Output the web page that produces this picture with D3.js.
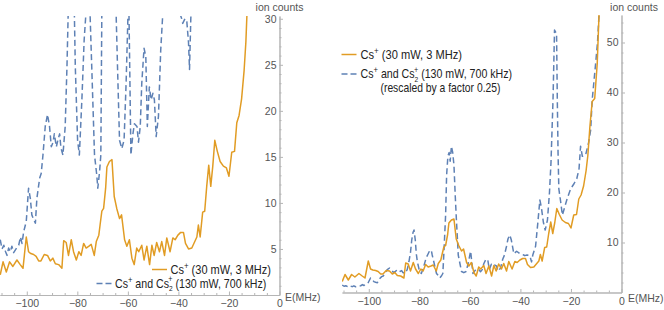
<!DOCTYPE html>
<html><head><meta charset="utf-8">
<script src="https://cdn.jsdelivr.net/npm/d3@7"></script>
<style>
body{margin:0;background:#fff;}
svg{display:block;}
text{font-family:"Liberation Sans",Arial,sans-serif;}
</style></head><body>
<svg id="chart" width="664" height="310"></svg>
<script>
// ---------- data ----------
const orangeMHz = [-110.5,-109.4,-108.1,-106.8,-105.5,-103.9,-102.6,-101.5,-100.2,-99.3,-98.4,-97.3,-96.3,-95.3,-94.4,-93.1,-91.8,-90.7,-89.7,-88.7,-87.4,-86.1,-85.4,-84.4,-83.5,-82.4,-81.5,-80.4,-79.4,-78.5,-77.5,-76.5,-75.4,-74.5,-73.3,-72.5,-71.5,-71.0,-70.3,-69.6,-68.8,-68.3,-67.3,-66.3,-65.4,-64.4,-63.3,-62.5,-61.3,-60.4,-59.4,-58.4,-57.5,-56.5,-55.7,-54.5,-53.6,-52.5,-51.4,-50.5,-49.6,-48.6,-47.5,-46.6,-45.5,-44.6,-43.3,-42.2,-41.3,-40.2,-39.1,-38.0,-37.2,-36.0,-34.7,-33.7,-32.7,-32.1,-31.4,-30.4,-29.6,-28.8,-28.0,-27.2,-26.4,-25.6,-24.6,-23.5,-22.2,-21.0,-20.0,-18.9,-17.8,-16.9,-16.0,-15.0,-14.0,-13.3,-12.5,-11.6,-10.6,-9.6,-8.9,-8.2];
const orangeCounts = [2.2,3.6,2.5,3.6,3.1,3.8,3.3,2.9,6.3,4.7,4.5,4.4,4.2,3.7,3.7,4.4,4.3,3.7,4.0,3.4,3.3,2.9,5.9,5.7,4.3,6.0,4.7,3.8,4.7,4.3,5.6,5.1,5.3,5.5,4.3,5.8,6.5,7.6,9.1,9.4,11.6,13.9,14.5,14.7,10.7,9.4,8.3,8.7,6.0,5.3,6.0,4.0,3.3,5.1,4.7,5.4,3.8,5.3,3.3,5.4,4.3,5.7,4.7,5.8,4.3,6.2,4.7,6.2,6.0,6.5,6.8,6.8,5.6,5.0,5.1,5.7,6.3,7.6,6.3,9.0,9.1,11.8,14.1,11.8,14.0,16.8,15.6,14.5,14.0,13.8,12.9,15.5,15.6,18.7,19.5,21.3,24.4,27.5,33.2,38.2,38.8,45.8,55.5,62];

const blueMHz = [-110.5,-109.8,-109.1,-108.4,-107.8,-107.2,-106.5,-105.9,-105.2,-104.5,-103.8,-103.2,-102.5,-101.9,-101.2,-100.2,-99.3,-98.6,-98.0,-97.3,-96.6,-96.0,-94.9,-94.3,-93.6,-92.7,-91.8,-91.0,-90.3,-89.6,-89.1,-88.3,-87.7,-87.0,-86.5,-85.7,-84.8,-84.1,-83.5,-83.0,-82.5,-82.1,-81.6,-81.2,-80.8,-79.9,-79.2,-78.2,-77.3,-76.5,-75.8,-75.2,-74.9,-74.3,-73.2,-72.3,-71.9,-71.2,-70.7,-70.3,-69.6,-69.2,-68.7,-68.2,-67.8,-67.3,-66.8,-66.3,-65.8,-65.3,-64.8,-64.6,-64.1,-63.3,-62.4,-61.5,-60.7,-60.0,-59.7,-59.4,-58.8,-58.0,-57.4,-56.4,-55.8,-55.1,-54.5,-53.6,-52.9,-52.3,-51.5,-50.8,-50.1,-49.5,-48.8,-47.9,-47.0,-46.3,-45.5,-44.9,-44.2,-43.6,-42.6,-41.5,-40.2,-39.3,-38.7,-38.3,-37.4,-36.7,-36.0,-35.6,-35.1,-34.0,-33.1,-32.3,-31.7,-30.9,-30.2,-29.3,-28.5,-27.9,-27.1,-26.5,-25.7,-25.4,-25.1,-24.8,-24.1,-23.4,-21.5,-20.1,-18.8,-17.7,-16.8,-16.2,-15.5,-14.2,-13.0,-12.2,-11.6,-10.2,-9.5,-8.9,-8.2];
const blueCounts = [6.0,5.0,5.4,4.7,4.3,5.1,4.7,5.3,4.6,4.9,5.2,5.4,6.3,5.6,6.9,8.0,11.6,10.5,8.7,8.2,7.8,10.5,12.7,13.2,15.2,18.3,19.6,18.3,16.1,16.6,17.5,16.1,16.8,17.5,16.0,15.2,18.3,24.8,32,42,48,50,42,31,24.8,16.8,15.2,21.2,27.7,31,34,33,30,24.8,15.2,13.0,11.6,13.4,15.2,31,62,94,109,112,105,117,112,102,78,57,38,30,24.8,16.8,15.9,16.8,23,30,33,27.4,15.2,17.5,18.6,18.3,16.6,18.3,23,26.8,25.9,18.3,22.6,21.2,21.9,21.2,17.2,19.4,26.6,30,37,43,46,42,31,33,31,30.5,30,29.5,30,29.8,27.4,24.5,30,37,56,74,68,56,50,58,80,104,154,210,207,154,111,83,73,62,75,83,87,91,99,117,109,110,120,130,154,184,200,222,250];
const rescaleFactor = 0.25;

const xTicks = [-100,-80,-60,-40,-20,0];
const leftYTicks = [5,10,15,20,25,30];
const rightYTicks = [10,20,30,40,50];
const legendOrange = {base:"Cs", sup:"+", rest:" (30 mW, 3 MHz)"};
const legendBlue = {a:"Cs", sup1:"+", mid:" and Cs", sub:"2", sup2:"+", rest:" (130 mW, 700 kHz)"};
const legendNote = "(rescaled by a factor 0.25)";

const orange = orangeMHz.map((m,i)=>({m, v:orangeCounts[i]}));
const blue = blueMHz.map((m,i)=>({m, v:blueCounts[i]}));

const ORANGE = "#e19c24", BLUE = "#5e81b5", AXIS = "#b5b5b5", TXT = "#555";

const svg = d3.select("#chart");
const xDomain = [-110.6, 0];

const panels = [
  {id:"L", x0:0, x1:279.5, yTop:16, yBot:295, yMax:30.3, factor:1, yTicks:leftYTicks, minorStep:1,
   ionX:279.5, ionY:11, eX:285, eY:300.5,
   leg:{l1x:152, l1y:269.5, t1x:170.5, w1:100.5, l2x:96.5, l2y:283.5, t2x:115, w2:155.5, note:false}},
  {id:"R", x0:342, x1:621.5, yTop:15, yBot:292.5, yMax:55.5, factor:rescaleFactor, yTicks:rightYTicks, minorStep:2,
   ionX:634, ionY:11, eX:628, eY:302,
   leg:{l1x:341.5, l1y:54.5, t1x:360.5, w1:101.5, l2x:341.5, l2y:74, t2x:360.5, w2:156, note:true, ny:87.5, nx:380.5, nw:120}}
];

const LFS = 12.8; // legend glyph height; horizontally compressed to the reference width
function fitLegend(parent, x, y, parts, width) {
  const g = parent.append("g").attr("transform",`translate(${x},${y})`);
  const t = g.append("text").attr("x",0).attr("y",0).attr("font-size",LFS);
  parts.forEach(pt=>{
    const s = t.append("tspan").text(pt.t);
    if (pt.dy) s.attr("dy", pt.dy*LFS);
    if (pt.dx) s.attr("dx", pt.dx*LFS);
    if (pt.s) s.attr("font-size", pt.s*LFS);
  });
  const w = t.node().getComputedTextLength();
  g.attr("transform",`translate(${x},${y}) scale(${width/w},1)`);
  return g;
}

const orangeParts = [{t:legendOrange.base},{t:legendOrange.sup,dy:-0.4,s:0.72},{t:legendOrange.rest,dy:0.4}];
const blueParts = [{t:legendBlue.a},{t:legendBlue.sup1,dy:-0.4,s:0.72},{t:legendBlue.mid,dy:0.4},
  {t:legendBlue.sub,dy:0.25,s:0.62},{t:legendBlue.sup2,dx:-0.4,dy:-0.68,s:0.68},{t:legendBlue.rest,dy:0.43}];

panels.forEach(p=>{
  const x = d3.scaleLinear().domain(xDomain).range([p.x0, p.x1]);
  const y = d3.scaleLinear().domain([0, p.yMax]).range([p.yBot, p.yTop]);
  const g = svg.append("g");

  // axes
  const minorX = d3.range(-110, 0.1, 5).filter(v=>v%20!==0 && v>=xDomain[0]);
  const gxMinor = g.append("g").attr("transform",`translate(0,${p.yBot})`)
    .call(d3.axisBottom(x).tickValues(minorX).tickSize(-2).tickFormat("").tickSizeOuter(0));
  const gx = g.append("g").attr("transform",`translate(0,${p.yBot})`)
    .call(d3.axisBottom(x).tickValues(xTicks).tickSize(-3.5).tickPadding(5).tickSizeOuter(0));
  const minorY = d3.range(p.minorStep, p.yMax, p.minorStep).filter(v=>!p.yTicks.includes(v));
  const gyMinor = g.append("g").attr("transform",`translate(${p.x1},0)`)
    .call(d3.axisLeft(y).tickValues(minorY).tickSize(-2).tickFormat("").tickSizeOuter(0));
  const gy = g.append("g").attr("transform",`translate(${p.x1},0)`)
    .call(d3.axisLeft(y).tickValues(p.yTicks).tickSize(-3.5).tickPadding(3).tickSizeOuter(0));
  [gx,gy,gxMinor,gyMinor].forEach(a=>{
    a.selectAll("path.domain").attr("stroke",AXIS).attr("stroke-width",1);
    a.selectAll(".tick line").attr("stroke",AXIS).attr("stroke-width",1);
    a.selectAll("text").attr("fill",TXT).attr("font-size",10.5).attr("font-family","Liberation Sans, Arial, sans-serif");
  });

  g.append("text").attr("x",p.ionX).attr("y",p.ionY).attr("text-anchor","middle")
    .attr("fill",TXT).attr("font-size",10.5).text("ion counts");
  g.append("text").attr("x",p.eX).attr("y",p.eY).attr("text-anchor","start")
    .attr("fill",TXT).attr("font-size",10.5).text("E(MHz)");

  // clipped lines
  const cid = "clip"+p.id;
  svg.append("clipPath").attr("id",cid).append("rect")
    .attr("x",p.x0).attr("y",p.yTop).attr("width",p.x1-p.x0).attr("height",p.yBot-p.yTop);
  const line = d3.line().x(d=>x(d.m)).y(d=>y(d.v*(d.f||1)));
  const lg = g.append("g").attr("clip-path",`url(#${cid})`);
  lg.append("path").datum(blue.map(d=>({m:d.m, v:d.v, f:p.factor})))
    .attr("d",line).attr("fill","none").attr("stroke",BLUE).attr("stroke-width",1.5)
    .attr("stroke-dasharray","6,3.5").attr("stroke-linejoin","round");
  lg.append("path").datum(orange)
    .attr("d",line).attr("fill","none").attr("stroke",ORANGE).attr("stroke-width",1.5)
    .attr("stroke-linejoin","round");

  // legend
  const L = p.leg;
  const lgd = g.append("g").attr("fill","#222");
  lgd.append("line").attr("x1",L.l1x).attr("x2",L.l1x+15).attr("y1",L.l1y).attr("y2",L.l1y)
    .attr("stroke",ORANGE).attr("stroke-width",1.5);
  fitLegend(lgd, L.t1x, L.l1y+4.4, orangeParts, L.w1);
  lgd.append("line").attr("x1",L.l2x).attr("x2",L.l2x+15).attr("y1",L.l2y).attr("y2",L.l2y)
    .attr("stroke",BLUE).attr("stroke-width",1.5).attr("stroke-dasharray","6,3");
  fitLegend(lgd, L.t2x, L.l2y+4.4, blueParts, L.w2);
  if (L.note) fitLegend(lgd, L.nx, L.ny+4.4, [{t:legendNote}], L.nw);
});
</script>
</body></html>
